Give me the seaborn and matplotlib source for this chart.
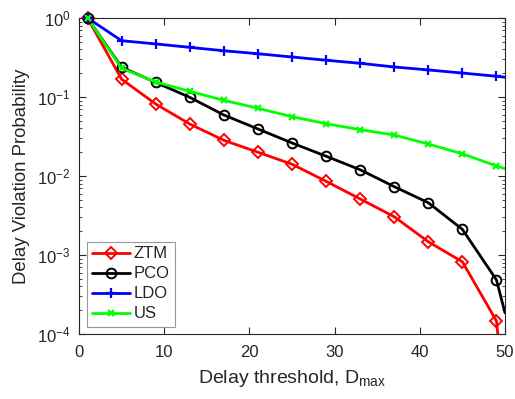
import numpy as np
import pandas as pd
import matplotlib
matplotlib.use("Agg")
import matplotlib.pyplot as plt
from matplotlib.ticker import LogLocator, NullFormatter, MultipleLocator
import seaborn as sns

# Delay thresholds (markers on every 4th slot, final point at 50 has no marker)
d_max = [1, 5, 9, 13, 17, 21, 25, 29, 33, 37, 41, 45, 49, 50]

ztm = [1.0, 0.168, 0.0815, 0.0455, 0.0283, 0.0200, 0.0141, 0.00857,
       0.00512, 0.00305, 0.00147, 0.00082, 0.000146, 0.000012]
pco = [1.0, 0.238, 0.153, 0.099, 0.0592, 0.0394, 0.0262, 0.0178,
       0.0120, 0.00733, 0.00459, 0.00211, 0.000483, 0.000185]
ldo = [1.0, 0.516, 0.470, 0.425, 0.385, 0.353, 0.321, 0.292,
       0.267, 0.240, 0.220, 0.201, 0.183, 0.178]
us = [1.0, 0.231, 0.155, 0.118, 0.0908, 0.0720, 0.0564, 0.0459,
      0.0386, 0.0330, 0.0254, 0.0191, 0.0134, 0.0124]

series_names = ["ZTM", "PCO", "LDO", "US"]

sns.set_style("ticks")
plt.rcParams["font.family"] = ["Liberation Sans", "DejaVu Sans"]
plt.rcParams["mathtext.fontset"] = "custom"
plt.rcParams["mathtext.rm"] = "Liberation Sans"
plt.rcParams["mathtext.it"] = "Liberation Sans:italic"

fig = plt.figure(figsize=(5.15, 3.99), dpi=100)
ax = fig.add_axes([79 / 515, 1 - 334 / 399, (505 - 79) / 515, (334 - 18) / 399])

styles = {
    "ZTM": dict(color="#ff0000", marker="D", ms=6.5, mfc="none", mew=1.4),
    "PCO": dict(color="#000000", marker="o", ms=7, mfc="none", mew=1.4),
    "LDO": dict(color="#0000ff", marker="+", ms=7, mew=1.6),
    "US": dict(color="#00ff00", marker="x", ms=5, mew=1.6),
}

n_marked = len(d_max) - 1
for name, vals in zip(series_names, [ztm, pco, ldo, us]):
    df = pd.DataFrame({"D": d_max, "P": vals})
    st = styles[name]
    mfc = st.get("mfc", st["color"])
    sns.lineplot(data=df, x="D", y="P", ax=ax, label=name,
                 color=st["color"], marker=st["marker"], markersize=st["ms"],
                 markerfacecolor=mfc, markeredgecolor=st["color"],
                 markeredgewidth=st["mew"], markevery=list(range(n_marked)),
                 linewidth=2.0, errorbar=None, sort=False)
    # start point sits on the top border; draw its marker unclipped
    ax.plot(d_max[:1], vals[:1], linestyle="none", marker=st["marker"],
            markersize=st["ms"], markerfacecolor=mfc,
            markeredgecolor=st["color"], markeredgewidth=st["mew"],
            clip_on=False, zorder=3)

ax.set_yscale("log")
ax.set_xlim(0, 50)
ax.set_ylim(1e-4, 1)
ax.xaxis.set_major_locator(MultipleLocator(10))
ax.yaxis.set_major_locator(LogLocator(base=10, numticks=10))
ax.yaxis.set_minor_locator(LogLocator(base=10, subs=np.arange(2, 10), numticks=20))
ax.yaxis.set_minor_formatter(NullFormatter())

edge = "#262626"
for sp in ax.spines.values():
    sp.set_visible(True)
    sp.set_color(edge)
    sp.set_linewidth(0.8)
ax.tick_params(which="both", direction="in", top=True, right=True,
               colors=edge, labelcolor="#262626", labelsize=12)
ax.tick_params(which="major", length=5, width=0.8)
ax.tick_params(which="minor", length=2.5, width=0.6)
ax.tick_params(axis="x", pad=8)
ax.tick_params(axis="y", pad=6)

ax.set_xlabel("Delay threshold, D$_{\\mathregular{max}}$", fontsize=14,
              color="#262626", labelpad=6)
ax.set_ylabel("Delay Violation Probability", fontsize=13.4,
              color="#262626", labelpad=5)

leg = ax.legend(loc="lower left", fontsize=12, frameon=True, fancybox=False,
                borderpad=0.3, labelspacing=0.3, handlelength=2.3,
                handletextpad=0.25, borderaxespad=0.45)
leg.get_frame().set_edgecolor("#808080")
leg.get_frame().set_linewidth(0.8)

fig.savefig("out.png", dpi=100)
